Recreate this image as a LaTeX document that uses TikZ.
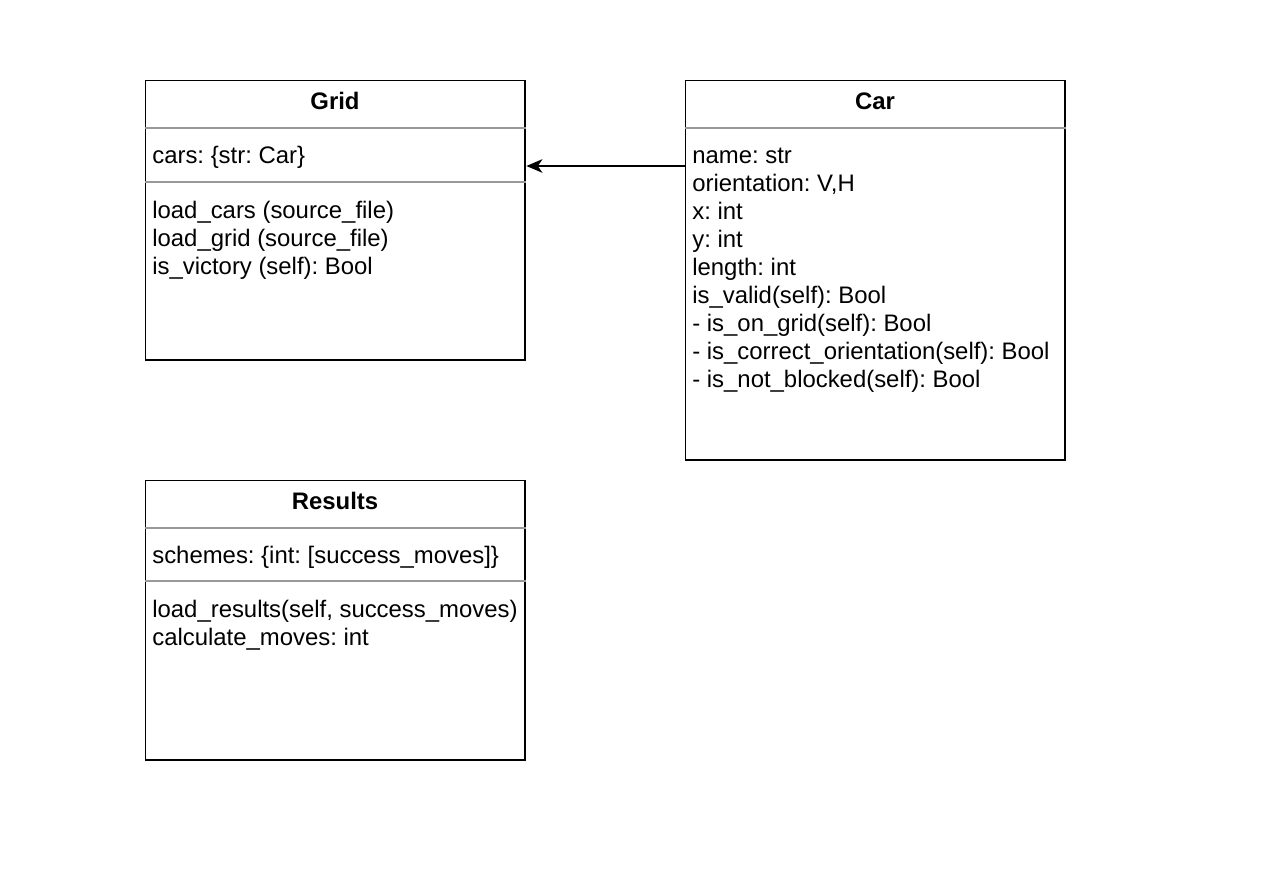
\documentclass[tikz,border=0pt]{standalone}
\usepackage{fontspec}
\setmainfont{Liberation Sans}
\usetikzlibrary{arrows, arrows.meta}
\frenchspacing

\tikzset{
    classbox/.style={draw, line width=1.1pt, inner sep=0pt, minimum width=7.6cm, anchor=north west},
    divider/.style={draw=black!40, line width=0.9pt},
    title/.style={anchor=base, inner sep=0pt, font=\fontsize{13.6}{16}\selectfont\bfseries},
    member/.style={anchor=base west, inner sep=0pt, font=\fontsize{13.6}{16}\selectfont},
}

\begin{document}
\begin{tikzpicture}[x=0.02cm, y=-0.02cm]
        \useasboundingbox (0,0) rectangle (1288,870);

        % Grid
        \node[classbox, minimum height=5.6cm] (grid) at (144.5,79.5) {};
        \node[title] (gridname) at (335,109) {Grid};
        \draw[divider] (grid.west |- 0,128) -- (grid.east |- 0,128);
        \node[member] (gridcars) at (152,163) {cars: \{str: Car\}};
        \draw[divider] (grid.west |- 0,182) -- (grid.east |- 0,182);
        \node[member] (loadcars) at (152,218) {load\_cars (source\_file)};
        \node[member] (loadgrid) at (152,246) {load\_grid (source\_file)};
        \node[member] (victory) at (152,274) {is\_victory (self): Bool};

        % Car
        \node[classbox, minimum height=7.6cm] (car) at (684.5,79.5) {};
        \node[title] (carname) at (875,109) {Car};
        \draw[divider] (car.west |- 0,128) -- (car.east |- 0,128);
        \node[member] (name) at (692,163) {name: str};
        \node[member] (orient) at (692,191) {orientation: V,H};
        \node[member] (xpos) at (692,219) {x: int};
        \node[member] (ypos) at (692,247) {y: int};
        \node[member] (length) at (692,275) {length: int};
        \node[member] (valid) at (692,303) {is\_valid(self): Bool};
        \node[member] (ongrid) at (692,331) {- is\_on\_grid(self): Bool};
        \node[member] (correct) at (692,359) {- is\_correct\_orientation(self): Bool};
        \node[member] (blocked) at (692,387) {- is\_not\_blocked(self): Bool};

        % Results
        \node[classbox, minimum height=5.6cm] (results) at (144.5,479.5) {};
        \node[title] (resultsname) at (335,509) {Results};
        \draw[divider] (results.west |- 0,528) -- (results.east |- 0,528);
        \node[member] (schemes) at (152,563) {schemes: \{int: [success\_moves]\}};
        \draw[divider] (results.west |- 0,581) -- (results.east |- 0,581);
        \node[member] (loadresults) at (152,617) {load\_results(self, success\_moves)};
        \node[member] (calc) at (152,645) {calculate\_moves: int};

        % Car -> Grid
        \coordinate (link) at (605,166);
        \draw[-{Stealth[length=0.32cm, width=0.27cm, inset=0.09cm]}, line width=1.1pt] (car.west |- link) -- (grid.east |- link);
    \end{tikzpicture}
\end{document}
